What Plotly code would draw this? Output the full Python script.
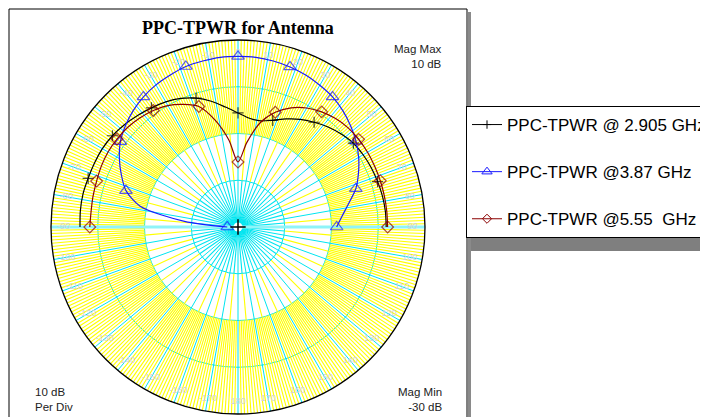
import plotly.graph_objects as go

# ---------------- data ----------------
angles = [-90, -84, -78, -72, -66, -60, -54, -48, -42, -36, -30, -24, -18, -12, -6,
          0, 6, 12, 18, 24, 30, 36, 42, 48, 54, 60, 66, 72, 78, 84, 90]

pwr_2905 = [3.8, 3.9, 3.9, 3.7, 3.6, 3.5, 3.2, 2.7, 2.1, 1.5, 0.9, 0.1, -1.0, -2.5, -4.2,
            -5.6, -6.6, -6.8, -6.0, -4.7, -3.4, -2.3, -1.2, -0.3, 0.5, 0.9, 1.2, 1.4, 1.6, 1.7, 1.7]

pwr_387 = [-27.7, -18.5, -8.6, -4.8, -2.7, -0.7, 1.1, 2.4, 3.5, 4.4, 5.1, 5.6, 6.1, 6.3, 6.5,
           6.5, 6.5, 6.3, 6.0, 5.6, 5.0, 4.4, 3.5, 2.4, 1.2, -0.2, -1.8, -3.5, -5.8, -7.6, -8.9]

pwr_555 = [1.7, 1.6, 1.7, 1.8, 2.0, 2.1, 2.0, 1.8, 1.4, 0.8, 0.0, -1.3, -2.9, -6.7, -11.3,
           -16.1, -11.8, -7.2, -4.2, -2.1, -0.6, 0.45, 1.2, 1.7, 1.9, 2.0, 2.0, 2.0, 2.0, 2.0, 2.0]

series_names = ["PPC-TPWR @ 2.905 GHz", "PPC-TPWR @3.87 GHz", "PPC-TPWR @5.55  GHz"]
mag_min, mag_max = -30, 10
ring_vals = [-20, -10, 0]
angle_labels = list(range(-170, 181, 10))

# page body adds an 8px margin, so the figure is sized to fill the window
OFF = 8
W, H = 708 - OFF, 417 - OFF
YELLOW = "#ffff00"
CYAN = "#00e5f0"


def px(x):
    return (x - OFF) / W


def py(y):
    return 1 - (y - OFF) / H


fig = go.Figure()

# ---------------- background grid decoration ----------------
def spokes(step, r0, r1, skip10=True):
    rr, tt = [], []
    a = -180.0
    while a < 180.0 - 1e-9:
        if not (skip10 and abs(a / 10 - round(a / 10)) < 1e-6):
            rr += [r0, r1, None]
            tt += [a, a, None]
        a += step
    return rr, tt

for step, r0, r1, col in [(1, -10, mag_max, YELLOW),
                          (5, -20, -10, YELLOW), (5, mag_min, -20, CYAN)]:
    rr, tt = spokes(step, r0, r1)
    fig.add_trace(go.Scatterpolar(r=rr, theta=tt, mode="lines",
                                  line=dict(color=col, width=1.1),
                                  hoverinfo="skip", showlegend=False))

# thicker horizontal axis
fig.add_trace(go.Scatterpolar(r=[mag_max, mag_min, None, mag_min, mag_max],
                              theta=[-90, -90, None, 90, 90], mode="lines",
                              line=dict(color="#8ff4f8", width=3),
                              hoverinfo="skip", showlegend=False))

# faint angle labels
fig.add_trace(go.Scatterpolar(r=[7.3] * len(angle_labels), theta=angle_labels,
                              mode="text", text=[str(a) for a in angle_labels],
                              textfont=dict(color="#d2d2d2", size=9,
                                            family="Liberation Sans, Arial"),
                              hoverinfo="skip", showlegend=False))

# ---------------- data traces ----------------
styles = [
    dict(color="#000000", symbol="cross-thin-open", size=8),
    dict(color="#1a1aff", symbol="triangle-up-open", size=11),
    dict(color="#8b0000", symbol="diamond-open", size=9),
]
data = [pwr_2905, pwr_387, pwr_555]

for k, (vals, st, name) in enumerate(zip(data, styles, series_names)):
    sizes = []
    for i in range(len(angles)):
        show = (i % 3 == 0)
        if k == 0 and i in (0, len(angles) - 1):
            show = False
        sizes.append(st["size"] if show else 0)
    fig.add_trace(go.Scatterpolar(
        r=vals, theta=angles, mode="lines+markers",
        line=dict(color=st["color"], width=1.2, shape="spline", smoothing=0.8),
        marker=dict(symbol=st["symbol"], size=sizes, color=st["color"],
                    line=dict(color=st["color"], width=1.2)),
        showlegend=False, hoverinfo="skip"))
    # legend entry
    fig.add_trace(go.Scatterpolar(
        r=[None], theta=[None], mode="lines+markers", name=name,
        legendgroup=name,
        line=dict(color=st["color"], width=1),
        marker=dict(symbol=st["symbol"], size=st["size"] - 2, color=st["color"],
                    line=dict(color=st["color"], width=1))))

# center mark
fig.add_trace(go.Scatterpolar(r=[mag_min], theta=[0], mode="markers",
                              marker=dict(symbol="circle", size=9, color="white",
                                          line=dict(width=0)),
                              hoverinfo="skip", showlegend=False))
fig.add_trace(go.Scatterpolar(r=[mag_min], theta=[0], mode="markers",
                              marker=dict(symbol="cross-thin-open", size=11, color="black",
                                          line=dict(color="black", width=1.5)),
                              hoverinfo="skip", showlegend=False))

# ---------------- layout ----------------
cx, cy, R = 238, 227, 187
fig.update_layout(
    width=W, height=H,
    margin=dict(l=0, r=0, t=0, b=0, autoexpand=False),
    paper_bgcolor="white", plot_bgcolor="white",
    polar=dict(
        domain=dict(x=[px(cx - R), px(cx + R)],
                    y=[py(cy + R), py(cy - R)]),
        bgcolor="white",
        radialaxis=dict(range=[mag_min, mag_max], tickvals=ring_vals,
                        showticklabels=False, ticks="", showline=False,
                        gridcolor=CYAN, gridwidth=1),
        angularaxis=dict(rotation=90, direction="clockwise", dtick=10,
                         showticklabels=False, ticks="", gridcolor=CYAN,
                         gridwidth=1, showline=True, linecolor="black",
                         linewidth=1.3),
    ),
    legend=dict(xref="container", yref="container",
                x=px(466), y=py(106), xanchor="left", yanchor="top",
                bgcolor="white", bordercolor="black", borderwidth=1,
                font=dict(family="Liberation Sans, Arial", size=17, color="black"),
                tracegroupgap=22, itemwidth=30),
    font=dict(family="Liberation Sans, Arial"),
    shapes=[
        # legend shadow
        dict(type="rect", xref="paper", yref="paper",
             x0=px(469), x1=1.05, y0=py(251), y1=py(109),
             fillcolor="#7f7f7f", line=dict(width=0), layer="above"),
        # frame shadow
        dict(type="line", xref="paper", yref="paper",
             x0=px(469.5), x1=px(469.5), y0=-0.05, y1=py(12),
             line=dict(color="#8a8a8a", width=3), layer="above"),
        # frame
        dict(type="rect", xref="paper", yref="paper",
             x0=px(9), x1=px(467), y0=-0.05, y1=py(9),
             line=dict(color="black", width=1), layer="above"),
    ],
    annotations=[
        dict(text="<b>PPC-TPWR for Antenna</b>", xref="paper", yref="paper",
             x=px(238), y=py(28), xanchor="center", yanchor="middle",
             showarrow=False,
             font=dict(family="Liberation Serif, Times New Roman", size=18, color="black")),
        dict(text="Mag Max<br>10 dB", xref="paper", yref="paper",
             x=px(444), y=py(56.5), xanchor="right", yanchor="middle",
             align="right", showarrow=False,
             font=dict(size=11.5, color="#222222")),
        dict(text="10 dB<br>Per Div", xref="paper", yref="paper",
             x=px(33), y=py(399.5), xanchor="left", yanchor="middle",
             align="left", showarrow=False,
             font=dict(size=11.5, color="#222222")),
        dict(text="Mag Min<br>-30 dB", xref="paper", yref="paper",
             x=px(444), y=py(399.5), xanchor="right", yanchor="middle",
             align="right", showarrow=False,
             font=dict(size=11.5, color="#222222")),
    ],
)

fig.write_html("out.html")
